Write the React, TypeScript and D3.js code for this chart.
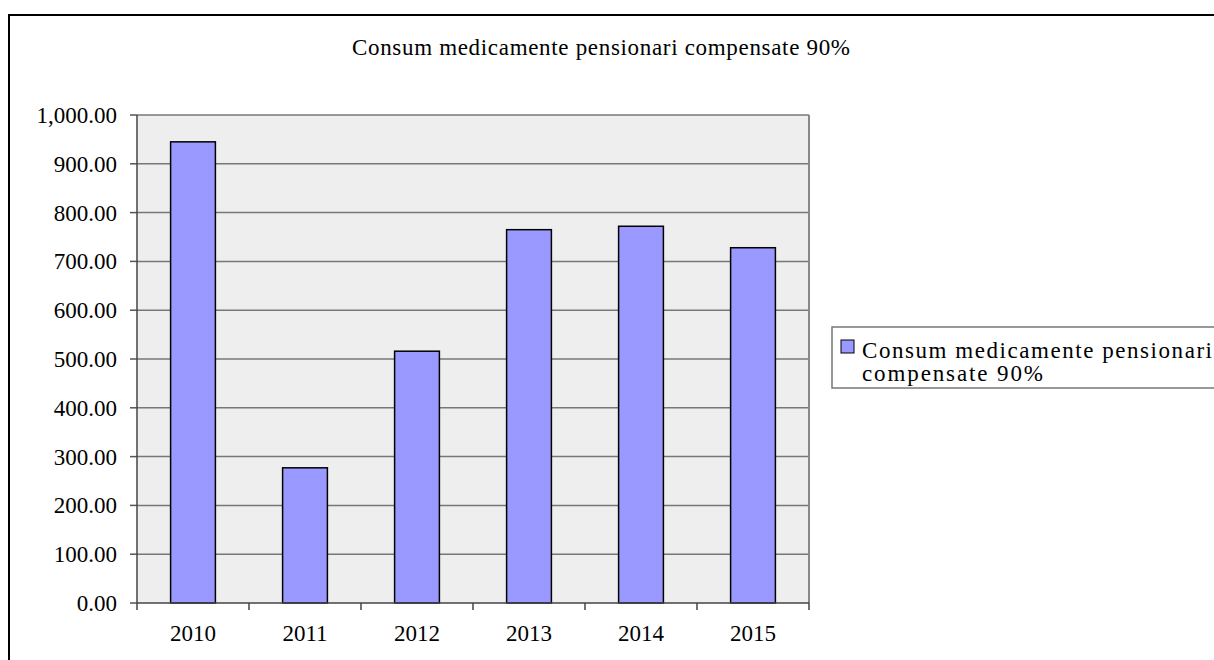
import React from "react";
import * as d3 from "d3";

const categories = ["2010", "2011", "2012", "2013", "2014", "2015"];
const values = [945, 277, 516, 765, 772, 728];
const yTicks = [0, 100, 200, 300, 400, 500, 600, 700, 800, 900, 1000];
const seriesName = "Consum medicamente pensionari compensate 90%";
const legendLines = ["Consum medicamente pensionari", "compensate 90%"];

export default function App() {
  const W = 1214, H = 660;
  const left = 137, right = 809, top = 115, bottom = 603;
  const x = d3.scaleBand<string>().domain(categories).range([left, right]).paddingInner(0.6).paddingOuter(0.3);
  const y = d3.scaleLinear().domain([0, 1000]).range([bottom, top]);
  const fmt = d3.format(",.2f");
  const step = x.step();
  const font = "Liberation Serif, Times New Roman, serif";
  return (
    <svg width={W} height={H} style={{ position: "absolute", left: 0, top: 0, fontFamily: font }}>
      <rect x={0} y={0} width={W} height={H} fill="#fff" />
      <rect x={9} y={15} width={W + 20} height={H + 20} fill="none" stroke="#000" strokeWidth={2} />
      <text x={601} y={55} fontSize={23} fontFamily={font} textAnchor="middle" textLength={498} lengthAdjust="spacing">{seriesName}</text>
      <rect x={left} y={top} width={right - left} height={bottom - top} fill="#EEEEEE" />
      {yTicks.map((t) => (
        <g key={t}>
          {t > 0 && <line x1={left} x2={right} y1={y(t)} y2={y(t)} stroke="#777" strokeWidth={1.5} />}
          <line x1={130} x2={left} y1={y(t)} y2={y(t)} stroke="#555" strokeWidth={1.5} />
          <text x={117} y={y(t)} dy="0.35em" fontSize={23} fontFamily={font} textAnchor="end">{fmt(t)}</text>
        </g>
      ))}
      <line x1={right} x2={right} y1={top} y2={bottom} stroke="#888" strokeWidth={2} />
      {categories.map((c, i) => (
        <rect key={c} x={x(c)} y={y(values[i])} width={x.bandwidth()} height={bottom - y(values[i])}
          fill="#9999FF" stroke="#000" strokeWidth={1.5} />
      ))}
      <line x1={left} x2={left} y1={top} y2={bottom} stroke="#444" strokeWidth={1.5} />
      <line x1={left} x2={right} y1={bottom} y2={bottom} stroke="#444" strokeWidth={1.5} />
      {d3.range(categories.length + 1).map((i) => (
        <line key={i} x1={left + i * step} x2={left + i * step} y1={bottom} y2={bottom + 7} stroke="#444" strokeWidth={1.5} />
      ))}
      {categories.map((c) => (
        <text key={c} x={(x(c) as number) + x.bandwidth() / 2} y={641} fontSize={23} fontFamily={font} textAnchor="middle">{c}</text>
      ))}
      <rect x={832} y={327} width={W} height={61} fill="#fff" stroke="#777" strokeWidth={1.5} />
      <rect x={841} y={340} width={13} height={13} fill="#9999FF" stroke="#000" strokeWidth={1} />
      <text x={862} y={358} fontSize={23} fontFamily={font} textLength={350} lengthAdjust="spacing">{legendLines[0]}</text>
      <text x={862} y={381} fontSize={23} fontFamily={font} textLength={181} lengthAdjust="spacing">{legendLines[1]}</text>
    </svg>
  );
}
